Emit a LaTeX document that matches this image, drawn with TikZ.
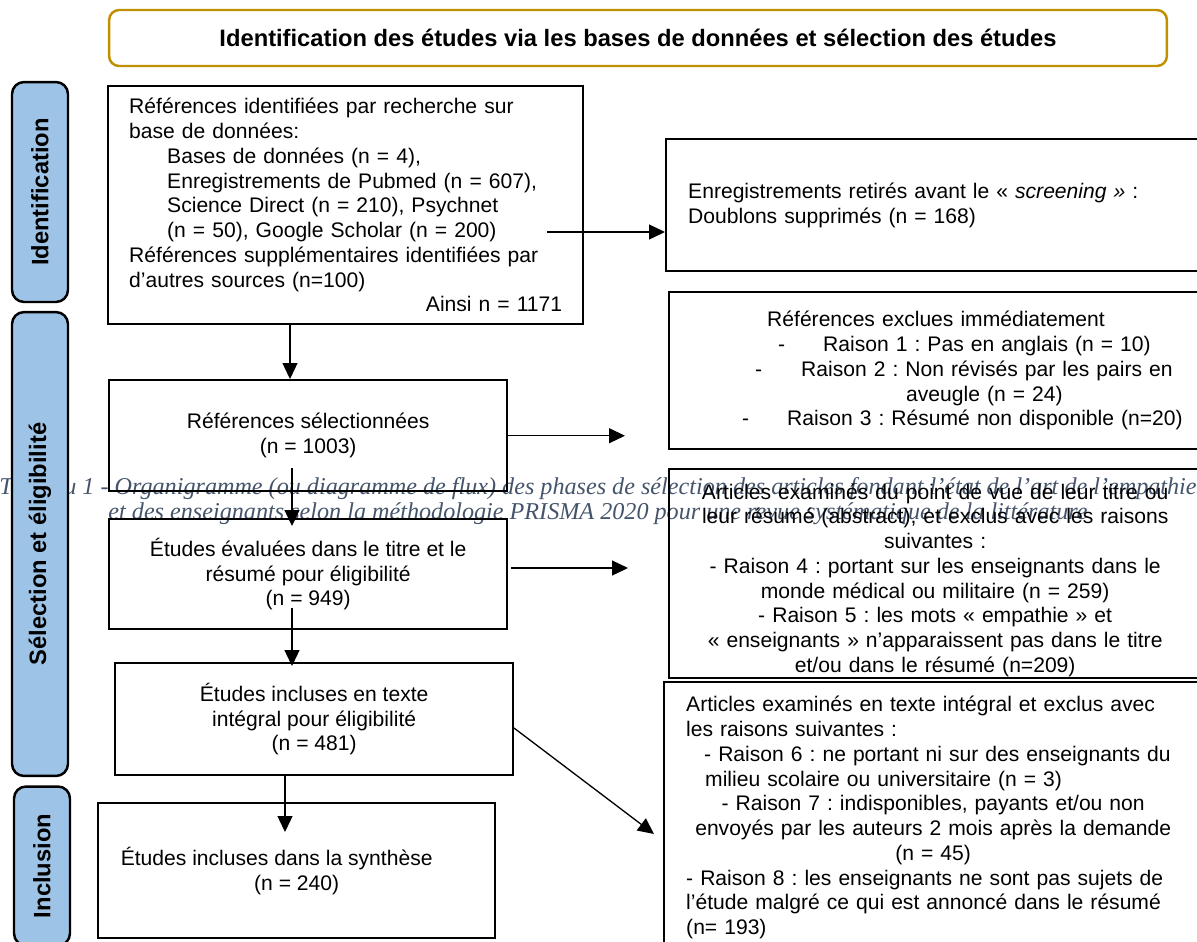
\documentclass[tikz,border=0pt]{standalone}
\usepackage{fontspec}
\setmainfont{Liberation Sans}
\newfontfamily\legende{Liberation Serif}
\usepackage{tikz}
\usetikzlibrary{arrows.meta, positioning}
\frenchspacing
\definecolor{ocre}{HTML}{BF9000}
\definecolor{bleuphase}{HTML}{9DC3E6}
\definecolor{gristitre}{HTML}{44546A}
\tikzstyle{boite} = [rectangle, draw=black, line width=1.4pt, inner ysep=0pt, font=\fontsize{12}{14.1}\selectfont]
\tikzstyle{phase} = [rectangle, rounded corners=0.24cm, draw=black, line width=1.4pt, fill=bleuphase, rotate=90, minimum height=1.12cm, font=\bfseries\fontsize{13.5}{16}\selectfont]
\tikzstyle{fleche} = [line width=0.75pt, -{Triangle[length=0.32cm, width=0.3cm]}]

\begin{document}
\begin{tikzpicture}[x=0.02cm, y=-0.02cm]
	\useasboundingbox (0,0) rectangle (1197,941);
	\clip (0,0) rectangle (1197,941);
	
	%legende
	\node (leg) [font=\legende\itshape\fontsize{13.75}{14.4}\selectfont, text=gristitre, align=center] at (598,501) {Tableau 1 - Organigramme (ou diagramme de flux) des phases de sélection des articles fondant l’état de l’art de l’empathie\\et des enseignants selon la méthodologie PRISMA 2020 pour une revue systématique de la littérature};
	
	\node (titre) [draw=ocre, line width=1.4pt, rounded corners=0.2cm, fill=white, minimum width=21.16cm, minimum height=1.12cm, font=\bfseries\fontsize{13.5}{16}\selectfont] at (638,38) {Identification des études via les bases de données et sélection des études};
	
	%phases
	\node (ident) [phase, minimum width=4.4cm] at (40,192) {Identification};
	\node (selec) [phase, minimum width=9.28cm] at (40,544) {Sélection et éligibilité};
	\node (incl) [phase, minimum width=3.18cm] at (42,866) {Inclusion};
	
	%colonne de gauche
	\node (refs) [boite, anchor=north west, align=left, text width=8.66cm, inner xsep=0.42cm, minimum height=4.76cm] at (107,85) {Références identifiées par recherche sur\\base de données:\\\hspace*{0.76cm}Bases de données (n = 4),\\\hspace*{0.76cm}Enregistrements de Pubmed (n = 607),\\\hspace*{0.76cm}Science Direct (n = 210), Psychnet\\\hspace*{0.76cm}(n = 50), Google Scholar (n = 200)\\Références supplémentaires identifiées par\\d’autres sources (n=100)\\\hfill Ainsi n = 1171};
	\node (sel) [boite, anchor=north west, align=center, minimum width=7.96cm, minimum height=2.22cm] at (108,379) {Références sélectionnées\\(n = 1003)};
	\node (eval) [boite, anchor=north west, align=center, minimum width=7.96cm, minimum height=2.2cm] at (108,518) {Études évaluées dans le titre et le\\résumé pour éligibilité\\(n = 949)};
	\node (integ) [boite, anchor=north west, align=center, minimum width=7.96cm, minimum height=2.24cm] at (114,662) {Études incluses en texte\\intégral pour éligibilité\\(n = 481)};
	\node (synth) [boite, anchor=north west, align=center, minimum width=7.94cm, minimum height=2.7cm] at (97,802) {\hspace*{-0.8cm}Études incluses dans la synthèse\\(n = 240)};
	
	%colonne de droite
	\node (retir) [boite, anchor=north west, align=left, text width=10cm, inner xsep=0.44cm, minimum height=2.64cm] at (665,138) {Enregistrements retirés avant le « \textit{screening »} :\\Doublons supprimés (n = 168)};
	\node (excl) [boite, anchor=north west, align=left, text width=10cm, inner xsep=1.46cm, minimum height=3.14cm] at (668,291) {\hspace*{0.5cm}Références exclues immédiatement\\\hspace*{0.72cm}\makebox[0.9cm][l]{-}Raison 1 : Pas en anglais (n = 10)\\\hspace*{0.26cm}\makebox[0.92cm][l]{-}Raison 2 : Non révisés par les pairs en\\\hspace*{3.28cm}aveugle (n = 24)\\\makebox[0.9cm][l]{-}Raison 3 : Résumé non disponible (n=20)};
	\node (titres) [boite, anchor=north west, align=left, text width=11.2cm, inner xsep=0.4cm, minimum height=4.18cm] at (668,468) {\parbox{9.84cm}{\centering\vspace*{0.26cm}Articles examinés du point de vue de leur titre ou\\leur résumé (abstract), et exclus avec les raisons\\suivantes :\\- Raison 4 : portant sur les enseignants dans le\\monde médical ou militaire (n = 259)\\- Raison 5 : les mots « empathie » et\\« enseignants » n’apparaissent pas dans le titre\\et/ou dans le résumé (n=209)}};
	\node (texte) [boite, anchor=north west, align=left, text width=11cm, inner xsep=0.44cm, inner ysep=0.28cm] at (663,681) {Articles examinés en texte intégral et exclus avec\\les raisons suivantes :\\\hspace*{0.36cm}- Raison 6 : ne portant ni sur des enseignants du\\\hspace*{0.38cm}milieu scolaire ou universitaire (n = 3)\\\makebox[9.88cm]{- Raison 7 : indisponibles, payants et/ou non}\\\makebox[9.88cm]{envoyés par les auteurs 2 mois après la demande}\\\makebox[9.88cm]{(n = 45)}\\- Raison 8 : les enseignants ne sont pas sujets de\\l’étude malgré ce qui est annoncé dans le résumé\\(n= 193)};
	
	%fleches
	\coordinate (x1) at (290,0);
	\coordinate (d2) at (292,468);
	\coordinate (a2) at (292,526);
	\coordinate (d3) at (292,608);
	\coordinate (a3) at (292,666);
	\coordinate (x4) at (285,0);
	\coordinate (a4) at (285,832);
	\coordinate (d5) at (547,232);
	\coordinate (x6) at (625,0);
	\coordinate (d7) at (511,568);
	\coordinate (a7) at (628,568);
	\coordinate (d8) at (514,728);
	\coordinate (a8) at (654,834);
	\draw [fleche] (refs.south -| x1) -- (sel.north -| x1);
	\draw [fleche] (d2) -- (a2);
	\draw [fleche] (d3) -- (a3);
	\draw [fleche] (integ.south -| x4) -- (a4);
	\draw [fleche] (d5) -- (retir.west |- d5);
	\draw [fleche] (sel.east) -- (sel.east -| x6);
	\draw [fleche] (d7) -- (a7);
	\draw [fleche] (d8) -- (a8);
	
\end{tikzpicture}
\end{document}
